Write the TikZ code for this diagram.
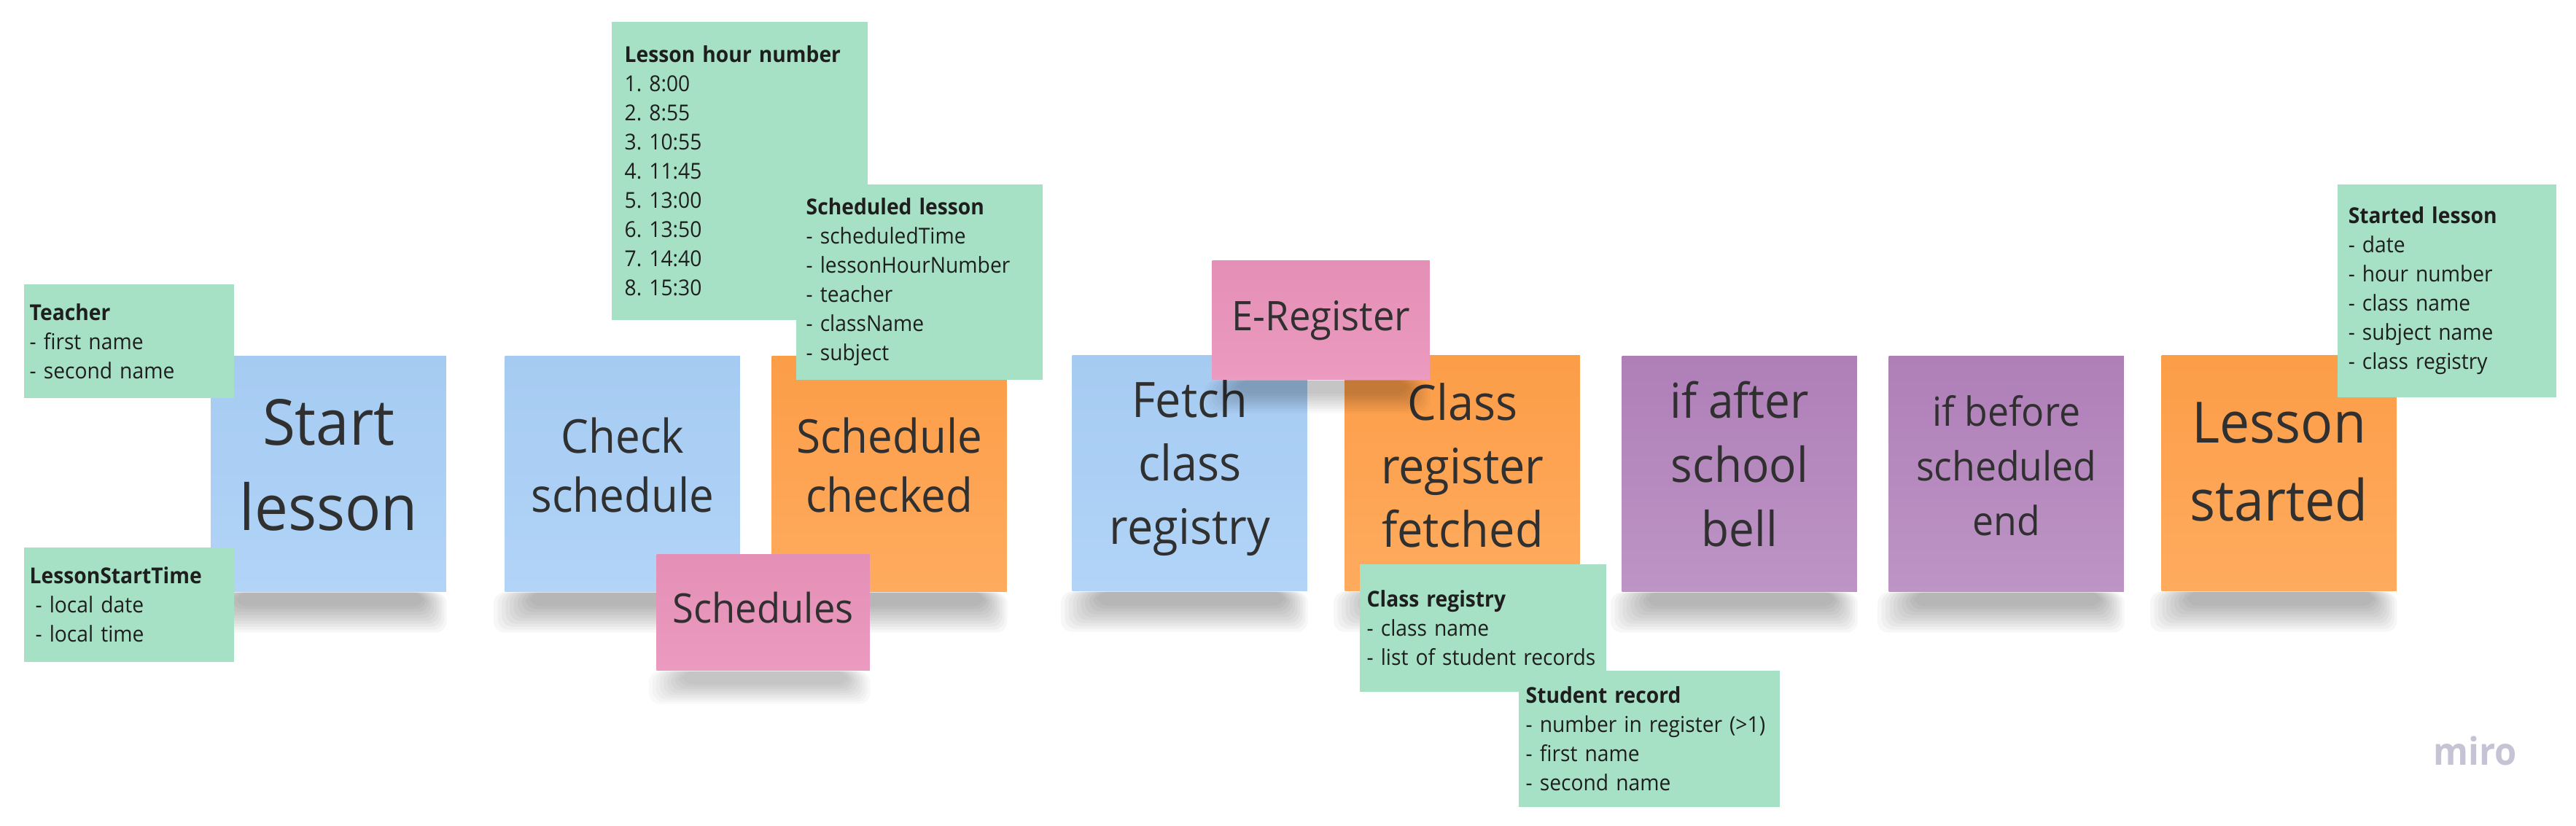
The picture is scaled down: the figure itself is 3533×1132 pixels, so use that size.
\documentclass[tikz,border=0pt]{standalone}
\usepackage{fontspec}
\setmainfont{Open Sans}[FakeStretch=0.94]

\definecolor{notegreen}{HTML}{A6E1C5}
\definecolor{noteink}{HTML}{1E1E1E}
\definecolor{stickyink}{HTML}{303030}
\definecolor{blueA}{HTML}{A6CBF2}
\definecolor{blueB}{HTML}{B1D4F7}
\definecolor{orangeA}{HTML}{FC9D48}
\definecolor{orangeB}{HTML}{FEAB5E}
\definecolor{purpleA}{HTML}{AF7FB8}
\definecolor{purpleB}{HTML}{BD94C5}
\definecolor{pinkA}{HTML}{E48FB6}
\definecolor{pinkB}{HTML}{EB9AC0}
\definecolor{mirogray}{HTML}{C6C4D4}

\newcommand{\notefont}{\fontsize{8.54pt}{11.38pt}\selectfont\frenchspacing}

\tikzset{
  sticky/.style={anchor=north west, minimum width=3.22cm, minimum height=3.23cm, inner sep=0pt},
  bluesticky/.style={sticky, top color=blueA, bottom color=blueB},
  orangesticky/.style={sticky, top color=orangeA, bottom color=orangeB},
  purplesticky/.style={sticky, top color=purpleA, bottom color=purpleB},
  stickytext/.style={align=center, text=stickyink},
  card/.style={anchor=north west, inner sep=0pt, top color=pinkA, bottom color=pinkB, text=stickyink,
    text height=0.42cm, text depth=0.13cm, font=\fontsize{15.9pt}{19pt}\selectfont},
  note/.style={anchor=north west, fill=notegreen, align=left, inner ysep=0pt, text=noteink, font=\notefont},
  shadow/.style={fill=black, opacity=.03, rounded corners=0.15cm}
}

\begin{document}
\begin{tikzpicture}[x=0.01cm,y=-0.01cm]
\useasboundingbox[fill=white] (0,0) rectangle (3533,1132);

% event stickies
\node[bluesticky] (startlesson) at (289,488) {};
\node[bluesticky] (checkschedule) at (692,488) {};
\node[orangesticky] (schedulechecked) at (1058,488) {};
\node[bluesticky] (fetchregistry) at (1470,487) {};
\node[orangesticky] (registerfetched) at (1844,487) {};
\node[purplesticky] (afterbell) at (2224,488) {};
\node[purplesticky] (beforeend) at (2590,488) {};
\node[orangesticky] (lessonstarted) at (2964,487) {};

% soft shadows under the stickies
\foreach \s in {startlesson,checkschedule,schedulechecked,fetchregistry,registerfetched,afterbell,beforeend,lessonstarted}
  \foreach \k in {0,...,9}
    \fill[shadow] ([xshift={(-0.15+0.055*\k)*1cm}]\s.south west) rectangle ([xshift={-0.035*\k*1cm},yshift={-(0.55-0.04*\k)*1cm}]\s.south east);

\node[stickytext, font=\fontsize{24.75pt}{33.3pt}\selectfont] (startlessontext) at ([yshift=0.125cm]startlesson.center) {Start\\lesson};
\node[stickytext, font=\fontsize{18.2pt}{23.05pt}\selectfont] (checkscheduletext) at ([yshift=0.12cm]checkschedule.center) {Check\\schedule};
\node[stickytext, font=\fontsize{18.2pt}{23.05pt}\selectfont] (schedulecheckedtext) at ([yshift=0.125cm]schedulechecked.center) {Schedule\\checked};
\node[stickytext, font=\fontsize{19.06pt}{24.75pt}\selectfont] (fetchregistrytext) at ([yshift=0.07cm]fetchregistry.center) {Fetch\\class\\registry};
\node[stickytext, font=\fontsize{19.06pt}{24.75pt}\selectfont] (registerfetchedtext) at ([yshift=0.11cm]registerfetched.center) {Class\\register\\fetched};
\node[stickytext, font=\fontsize{18.78pt}{25.04pt}\selectfont] (afterbelltext) at ([yshift=0.135cm]afterbell.center) {if after\\school\\bell};
\node[stickytext, font=\fontsize{15.65pt}{21.34pt}\selectfont] (beforeendtext) at ([yshift=0.115cm]beforeend.center) {if before\\scheduled\\end};
\node[stickytext, font=\fontsize{22.2pt}{30.45pt}\selectfont] (lessonstartedtext) at ([yshift=0.16cm]lessonstarted.center) {Lesson\\started};

% aggregates
\node[card, minimum width=2.92cm, minimum height=1.59cm] (schedules) at (900,760) {Schedules};
\node[card, minimum width=2.98cm, minimum height=1.63cm] (eregister) at (1662,357) {E-Register};
\foreach \s in {schedules,eregister}
  \foreach \k in {0,...,9}
    \fill[shadow, opacity=.025] ([xshift={(-0.1+0.05*\k)*1cm}]\s.south west) rectangle ([xshift={-0.035*\k*1cm},yshift={-(0.45-0.03*\k)*1cm}]\s.south east);

% data notes
\node[note, inner xsep=0.08cm, text width=2.72cm, minimum height=1.56cm] (teacher) at (32,389)
  {\textbf{Teacher}\\- first name\\- second name};
\node[note, inner xsep=0.08cm, text width=2.72cm, minimum height=1.57cm] (starttime) at (32,750)
  {\textbf{LessonStartTime}\\\hspace*{0.08cm}- local date\\\hspace*{0.08cm}- local time};
\node[note, inner xsep=0.18cm, text width=3.15cm, minimum height=4.09cm] (hournumber) at (838,29)
  {\textbf{Lesson hour number}\\1. 8:00\\2. 8:55\\3. 10:55\\4. 11:45\\5. 13:00\\6. 13:50\\7. 14:40\\8. 15:30};
\node[note, inner xsep=0.14cm, text width=3.10cm, minimum height=2.68cm] (scheduledlesson) at (1091,252)
  {\textbf{Scheduled lesson}\\- scheduledTime\\- lessonHourNumber\\- teacher\\- className\\- subject};
\node[note, inner xsep=0.10cm, text width=3.18cm, minimum height=1.75cm] (classregistry) at (1864,773)
  {\textbf{Class registry}\\- class name\\- list of student records};
\node[note, inner xsep=0.10cm, text width=3.38cm, minimum height=1.87cm] (studentrecord) at (2082,919)
  {\textbf{Student record}\\- number in register (>1)\\- first name\\- second name};
\node[note, inner xsep=0.15cm, text width=2.70cm, minimum height=2.92cm] (startedlesson) at (3205,252)
  {\textbf{Started lesson}\\- date\\- hour number\\- class name\\- subject name\\- class registry};

\node[text=mirogray, font=\fontsize{14.8pt}{14.8pt}\selectfont\bfseries] (miro) at (3395,1030) {miro};
\end{tikzpicture}
\end{document}
